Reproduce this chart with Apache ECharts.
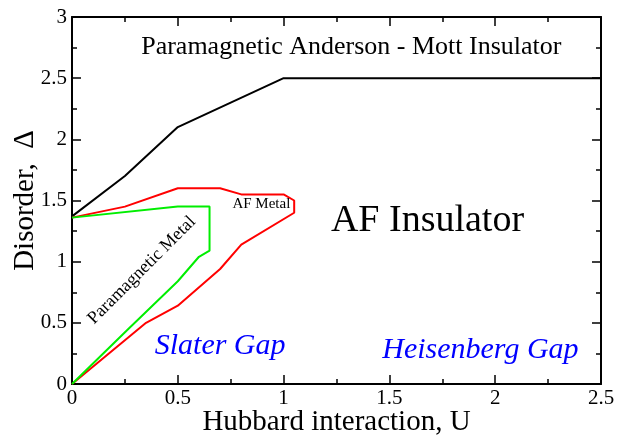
<!DOCTYPE html>
<html><head><meta charset="utf-8">
<script src="https://cdn.jsdelivr.net/npm/echarts@6/dist/echarts.min.js"></script>
<style>html,body{margin:0;padding:0;background:#fff}#c{width:625px;height:439px}</style>
</head><body><div id="c"></div>
<script>
const xTicks = [0, 0.5, 1, 1.5, 2, 2.5];
const yTicks = [0, 0.5, 1, 1.5, 2, 2.5, 3];
// Anderson-Mott boundary
const blackU = [0, 0.25, 0.5, 0.75, 1.0, 2.5];
const blackD = [1.37, 1.7, 2.1, 2.3, 2.5, 2.5];
// AF boundary (red loop)
const redU = [0, 0.25, 0.5, 0.7, 0.8, 1.0, 1.05, 1.05, 0.8, 0.7, 0.5, 0.35, 0];
const redD = [1.36, 1.45, 1.6, 1.6, 1.55, 1.55, 1.5, 1.4, 1.14, 0.94, 0.64, 0.5, 0];
// metal boundary (green loop)
const greenU = [0, 0.5, 0.65, 0.65, 0.6, 0.5, 0.26, 0];
const greenD = [1.36, 1.45, 1.45, 1.09, 1.04, 0.84, 0.44, 0];
const labels = [
  {text: 'Paramagnetic Anderson - Mott Insulator', u: 1.32, d: 2.75, size: 26, color: '#000', style: 'normal', rot: 0},
  {text: 'AF Insulator', u: 1.68, d: 1.33, size: 38, color: '#000', style: 'normal', rot: 0},
  {text: 'AF Metal', u: 0.895, d: 1.47, size: 15, color: '#000', style: 'normal', rot: 0},
  {text: 'Paramagnetic Metal', u: 0.33, d: 0.93, size: 18, color: '#000', style: 'normal', rot: 45},
  {text: 'Slater Gap', u: 0.70, d: 0.31, size: 30, color: '#0000ff', style: 'italic', rot: 0},
  {text: 'Heisenberg Gap', u: 1.93, d: 0.28, size: 30, color: '#0000ff', style: 'italic', rot: 0}
];
const zip = (a, b) => a.map((v, i) => [v, b[i]]);
const FONT = '"Liberation Serif", "DejaVu Serif", serif';
const chart = echarts.init(document.getElementById('c'), null, {renderer: 'canvas'});
const axCommon = () => ({
  min: 0, axisLine: {show: true, onZero: false, lineStyle: {color: '#000', width: 2}},
  axisTick: {show: true, inside: true, length: 9, lineStyle: {color: '#000', width: 1.5}},
  minorTick: {show: true, splitNumber: 2, length: 5, lineStyle: {color: '#000', width: 1.5}},
  splitLine: {show: false}
});
const xLab = {fontFamily: FONT, fontSize: 21, color: '#000', margin: 4, formatter: v => String(v)};
const yLab = {fontFamily: FONT, fontSize: 21, color: '#000', margin: 5, formatter: v => String(v)};
chart.setOption({
  animation: false,
  grid: {left: 72, right: 24, top: 17, bottom: 55, containLabel: false, outerBoundsMode: 'none'},
  xAxis: [
    Object.assign(axCommon(), {type: 'value', position: 'bottom', max: 2.5, interval: 0.5,
      axisLabel: xLab, name: 'Hubbard interaction, U', nameLocation: 'middle', nameGap: 38, nameMoveOverlap: false,
      nameTextStyle: {fontFamily: FONT, fontSize: 29, color: '#000', verticalAlign: 'middle'}}),
    Object.assign(axCommon(), {type: 'value', position: 'top', max: 2.5, interval: 0.5, axisLabel: {show: false}})
  ],
  yAxis: [
    Object.assign(axCommon(), {type: 'value', position: 'left', max: 3, interval: 0.5,
      axisLabel: yLab, name: 'Disorder,  \u0394', nameLocation: 'middle', nameGap: 47, nameMoveOverlap: false,
      nameTextStyle: {fontFamily: FONT, fontSize: 29, color: '#000', verticalAlign: 'middle'}}),
    Object.assign(axCommon(), {type: 'value', position: 'right', max: 3, interval: 0.5, axisLabel: {show: false}})
  ],
  series: [
    {type: 'line', data: zip(blackU, blackD), symbol: 'none', lineStyle: {color: '#000', width: 2}, z: 3},
    {type: 'line', data: zip(redU, redD), symbol: 'none', lineStyle: {color: '#ff0000', width: 2}, z: 3},
    {type: 'line', data: zip(greenU, greenD), symbol: 'none', lineStyle: {color: '#00ee00', width: 2}, z: 4}
  ]
});
const g = labels.map(l => {
  const p = chart.convertToPixel({xAxisIndex: 0, yAxisIndex: 0}, [l.u, l.d]);
  return {type: 'text', x: p[0], y: p[1], rotation: l.rot * Math.PI / 180, z: 10,
    style: {text: l.text, fill: l.color, font: l.style + ' ' + l.size + 'px ' + FONT,
      textAlign: 'center', textVerticalAlign: 'middle'}};
});
chart.setOption({graphic: g});
</script></body></html>
